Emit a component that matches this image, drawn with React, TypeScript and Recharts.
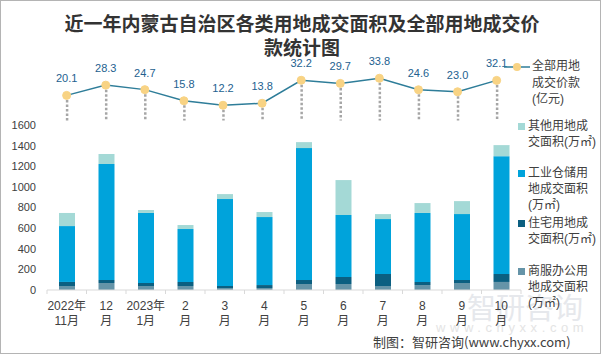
import React from 'react';
import { ComposedChart, Bar, Line, XAxis, YAxis, LabelList, Legend } from 'recharts';

// ---- data ----
const monthTop = ['2022年', '12', '2023年', '2', '3', '4', '5', '6', '7', '8', '9', '10'];
const monthBottom = ['11月', '月', '1月', '月', '月', '月', '月', '月', '月', '月', '月', '月'];
const priceValues = [20.1, 28.3, 24.7, 15.8, 12.2, 13.8, 32.2, 29.7, 33.8, 24.6, 23.0, 32.1];
const commercialArea = [39, 68, 39, 39, 19, 19, 58, 58, 39, 48, 68, 78];
const residentialArea = [39, 29, 29, 39, 20, 29, 39, 68, 116, 30, 29, 77];
const industrialArea = [542, 1125, 679, 513, 843, 659, 1279, 601, 533, 669, 639, 1143];
const otherArea = [127, 97, 29, 39, 48, 49, 58, 339, 48, 96, 126, 107];
const yTicks = [0, 200, 400, 600, 800, 1000, 1200, 1400, 1600];

const seriesNames = {
  price: '全部用地成交价款(亿元)',
  other: '其他用地成交面积(万㎡)',
  industrial: '工业仓储用地成交面积(万㎡)',
  residential: '住宅用地成交面积(万㎡)',
  commercial: '商服办公用地成交面积(万㎡)',
};

const data = monthTop.map((t, i) => ({
  cat: t + '|' + monthBottom[i],
  price: priceValues[i],
  commercial: commercialArea[i],
  residential: residentialArea[i],
  industrial: industrialArea[i],
  other: otherArea[i],
}));

// ---- styles ----
const FONT = '"Liberation Sans", "Noto Sans CJK SC", sans-serif';
const CJK = '"Noto Sans CJK SC", sans-serif';
const COLORS = {
  commercial: '#6594A8',
  residential: '#0B5F81',
  industrial: '#00A3DB',
  other: '#A4D9D6',
  line: '#2E7D99',
  dot: '#F8D384',
  label: '#23618F',
  drop: '#A6A6A6',
  text: '#404040',
  axis: '#D9D9D9',
};

const XTick = (props: any) => {
  const { x, y, payload, index, width, visibleTicksCount } = props;
  const half =
    payload && typeof payload.offset === 'number' && payload.offset > 0
      ? payload.offset
      : width / (visibleTicksCount || data.length) / 2;
  const [a, b] = String(payload.value).split('|');
  const last = index === data.length - 1;
  return (
    <g>
      <line x1={x - half} x2={x - half} y1={y} y2={y + 4} stroke={COLORS.axis} />
      {last && <line x1={x + half} x2={x + half} y1={y} y2={y + 4} stroke={COLORS.axis} />}
      <text x={x} y={y + 19.5} textAnchor="middle" fontSize={12} fill={COLORS.text} fontFamily={FONT}>
        {a}
      </text>
      <text x={x} y={y + 35} textAnchor="middle" fontSize={12} fill={COLORS.text} fontFamily={FONT}>
        {b}
      </text>
    </g>
  );
};

const DropLine = (props: any) => {
  const { x, y, width, height } = props;
  const cx = x + width / 2;
  return (
    <line x1={cx} x2={cx} y1={y} y2={y + height} stroke={COLORS.drop} strokeWidth={2.5} strokeDasharray="2.5 2" />
  );
};

const barLegendItems = [
  { key: 'other', lines: ['其他用地成', '交面积(万㎡)'], cy: 126 },
  { key: 'industrial', lines: ['工业仓储用', '地成交面积', '(万㎡)'], cy: 173 },
  { key: 'residential', lines: ['住宅用地成', '交面积(万㎡)'], cy: 223 },
  { key: 'commercial', lines: ['商服办公用', '地成交面积', '(万㎡)'], cy: 271 },
];

const BarLegend = () => (
  <div style={{ position: 'relative', width: 602, height: 355, pointerEvents: 'none' }}>
    {barLegendItems.map((it) => (
      <React.Fragment key={it.key}>
        <div
          style={{
            position: 'absolute',
            left: 518,
            top: it.cy - 3.5,
            width: 7,
            height: 7,
            background: (COLORS as any)[it.key],
          }}
        />
        <div
          style={{
            position: 'absolute',
            left: 528,
            top: it.cy - 8,
            fontSize: 12,
            lineHeight: '16px',
            color: COLORS.text,
            fontFamily: FONT,
            whiteSpace: 'nowrap',
          }}
        >
          {it.lines.map((l, i) => (
            <div key={i}>{l}</div>
          ))}
        </div>
      </React.Fragment>
    ))}
  </div>
);

const LineLegend = () => (
  <div style={{ position: 'relative', width: 602, height: 122, pointerEvents: 'none' }}>
    <svg width={602} height={122} style={{ position: 'absolute', left: 0, top: 0 }}>
      <line x1={504} x2={530} y1={67} y2={67} stroke={COLORS.line} strokeWidth={1.5} />
      <circle cx={517} cy={67} r={4} fill={COLORS.dot} />
    </svg>
    <div
      style={{
        position: 'absolute',
        left: 532,
        top: 58,
        fontSize: 12,
        lineHeight: '16.5px',
        color: COLORS.text,
        fontFamily: FONT,
        whiteSpace: 'nowrap',
      }}
    >
      <div>全部用地</div>
      <div>成交价款</div>
      <div>(亿元)</div>
    </div>
  </div>
);

export default function App() {
  return (
    <div
      style={{
        position: 'absolute',
        left: 0,
        top: 0,
        width: 601,
        height: 354,
        boxSizing: 'border-box',
        border: '1px solid #b4b4b4',
        background: '#ffffff',
        overflow: 'hidden',
      }}
    >
      {/* watermark */}
      <div
        style={{
          position: 'absolute',
          left: 466,
          top: 288,
          fontSize: 29,
          lineHeight: '34px',
          color: '#e6e8ec',
          fontFamily: CJK,
          whiteSpace: 'nowrap',
        }}
      >
        智研咨询
      </div>
      <div
        style={{
          position: 'absolute',
          left: 435,
          top: 319,
          fontSize: 13,
          lineHeight: '16px',
          letterSpacing: '4.6px',
          color: '#e4e4e4',
          fontFamily: FONT,
          whiteSpace: 'nowrap',
        }}
      >
        www.chyxx.com
      </div>

      <div style={{ position: 'absolute', left: -1, top: -1 }}>
        <ComposedChart width={602} height={355} data={data} margin={{ top: 125, right: 81, bottom: 15, left: 7 }}>
          <XAxis
            dataKey="cat"
            height={50}
            interval={0}
            tickLine={false}
            tickSize={0}
            tickMargin={0}
            axisLine={{ stroke: COLORS.axis }}
            tick={<XTick />}
          />
          <YAxis
            width={40}
            domain={[0, 1600]}
            ticks={yTicks}
            axisLine={false}
            tickLine={false}
            tickSize={0}
            tickMargin={11}
            tick={{ fontSize: 11, fill: COLORS.text, fontFamily: FONT }}
          />
          <Legend
            layout="vertical"
            align="center"
            verticalAlign="middle"
            wrapperStyle={{ left: 0, top: 0, width: 602, height: 355 }}
            content={() => <BarLegend />}
          />
          <Bar dataKey="commercial" name={seriesNames.commercial} stackId="a" barSize={16} fill={COLORS.commercial} isAnimationActive={false} />
          <Bar dataKey="residential" name={seriesNames.residential} stackId="a" barSize={16} fill={COLORS.residential} isAnimationActive={false} />
          <Bar dataKey="industrial" name={seriesNames.industrial} stackId="a" barSize={16} fill={COLORS.industrial} isAnimationActive={false} />
          <Bar dataKey="other" name={seriesNames.other} stackId="a" barSize={16} fill={COLORS.other} isAnimationActive={false} />
        </ComposedChart>
      </div>

      <div style={{ position: 'absolute', left: -1, top: -1 }}>
        <ComposedChart width={602} height={122} data={data} margin={{ top: 70.5, right: 85.8, bottom: 1.5, left: 47.1 }}>
          <XAxis dataKey="cat" hide />
          <YAxis hide domain={[0, 40]} />
          <Legend
            layout="vertical"
            align="center"
            verticalAlign="middle"
            wrapperStyle={{ left: 0, top: 0, width: 602, height: 122 }}
            content={() => <LineLegend />}
          />
          <Bar dataKey="price" barSize={2} shape={<DropLine />} isAnimationActive={false} legendType="none" />
          <Line
            dataKey="price"
            name={seriesNames.price}
            stroke={COLORS.line}
            strokeWidth={1.5}
            dot={{ r: 4, fill: COLORS.dot, stroke: COLORS.dot, strokeWidth: 1 }}
            activeDot={false}
            isAnimationActive={false}
          >
            <LabelList
              dataKey="price"
              position="top"
              offset={13}
              fill={COLORS.label}
              fontSize={11}
              fontFamily={FONT}
              formatter={(v: any) => Number(v).toFixed(1)}
            />
          </Line>
        </ComposedChart>
      </div>

      {/* title */}
      <div
        style={{
          position: 'absolute',
          left: 0,
          top: 10,
          width: 602,
          textAlign: 'center',
          fontSize: 19,
          fontWeight: 700,
          lineHeight: '24px',
          color: '#333333',
          fontFamily: CJK,
        }}
      >
        <div>近一年内蒙古自治区各类用地成交面积及全部用地成交价</div>
        <div>款统计图</div>
      </div>

      {/* source */}
      <div
        style={{
          position: 'absolute',
          left: 372,
          top: 333,
          fontSize: 13,
          lineHeight: '16px',
          color: COLORS.text,
          fontFamily: CJK,
          whiteSpace: 'nowrap',
        }}
      >
        制图：智研咨询(www.chyxx.com)
      </div>
    </div>
  );
}
